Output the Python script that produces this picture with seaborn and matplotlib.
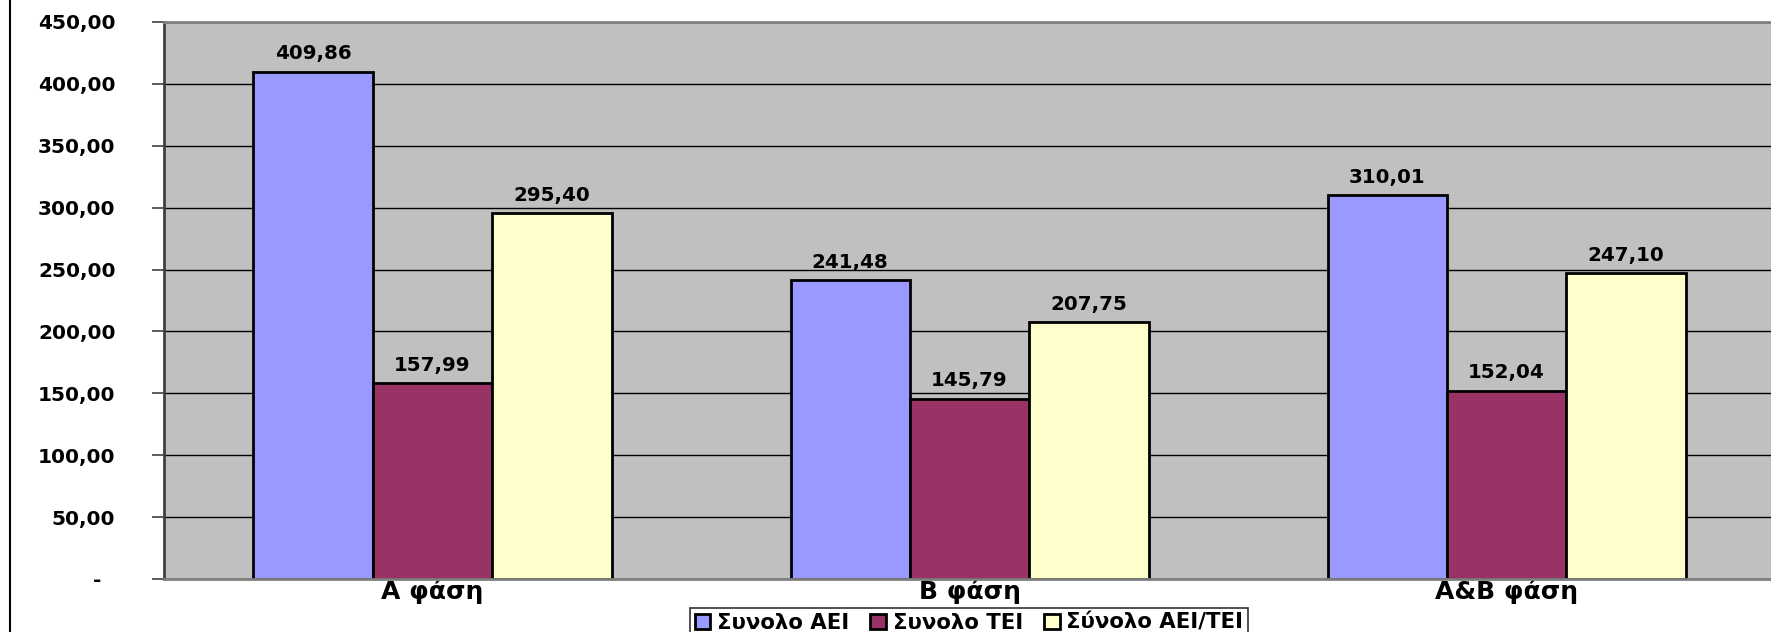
import pandas as pd
import matplotlib.pyplot as plt
import seaborn as sns
from matplotlib.lines import Line2D

# Datos
fases = ["Α φάση", "Β φάση", "Α&Β φάση"]
series = ["Συνολο ΑΕΙ", "Συνολο ΤΕΙ", "Σύνολο ΑΕΙ/ΤΕΙ"]
aei = [409.86, 241.48, 310.01]
tei = [157.99, 145.79, 152.04]
aei_tei = [295.40, 207.75, 247.10]
colores = ["#9999FF", "#993366", "#FFFFCC"]

datos = pd.DataFrame({
    "fase": fases * 3,
    "serie": [series[0]] * 3 + [series[1]] * 3 + [series[2]] * 3,
    "valor": aei + tei + aei_tei,
})

plt.rcParams['font.family'] = ['DejaVu Sans']
plt.rcParams['font.weight'] = 'bold'

fig = plt.figure(figsize=(17.71, 6.32), dpi=100)
ax = fig.add_axes([0.0926, 0.0839, 0.9097, 0.8813])
ax.set_facecolor("#C0C0C0")

sns.barplot(data=datos, x="fase", y="valor", hue="serie", palette=colores,
            width=2/3, gap=0, saturation=1, edgecolor="black", linewidth=2,
            ax=ax)

# Etiquetas sobre las barras
for cont in ax.containers:
    etiquetas = [f"{b.get_height():.2f}".replace(".", ",") for b in cont]
    ax.bar_label(cont, labels=etiquetas, padding=6, fontsize=14.3, fontweight='bold')

ax.set_ylim(0, 450)
ax.set_xlim(-0.5, 2.5)
ticks = list(range(0, 451, 50))
ax.set_yticks(ticks)
ax.set_yticklabels(["-  " if t == 0 else f"{t:.2f}".replace(".", ",") for t in ticks],
                   fontsize=14.5, fontweight='bold')
ax.tick_params(axis='y', length=9, width=1.2, pad=26, color='#404040')
ax.tick_params(axis='x', length=0, pad=0, labelsize=18)
for lbl in ax.get_xticklabels():
    lbl.set_fontweight('bold')
ax.set_xlabel("")
ax.set_ylabel("")

ax.yaxis.grid(True, color="black", linewidth=1)
ax.set_axisbelow(True)
for lado in ["top", "bottom", "left"]:
    ax.spines[lado].set_color("#808080")
    ax.spines[lado].set_linewidth(2)
ax.spines["left"].set_color("#404040")
ax.spines["right"].set_visible(False)

# Leyenda
handles, labels = ax.get_legend_handles_labels()
ax.legend_.remove()
leg = fig.legend(handles, labels, loc="upper center", bbox_to_anchor=(969 / 1771, 0.054),
                 ncol=3, frameon=True, fancybox=False, edgecolor="black",
                 handlelength=0.75, handleheight=0.75, handletextpad=0.3,
                 columnspacing=1.0, borderpad=0.2, prop={'size': 15.3, 'weight': 'bold'})
leg.get_frame().set_linewidth(1.2)

# Borde izquierdo del área del gráfico
fig.add_artist(Line2D([10 / 1771, 10 / 1771], [0, 1], color="black", linewidth=1.5,
                      transform=fig.transFigure))

fig.savefig("out.png", dpi=100)
